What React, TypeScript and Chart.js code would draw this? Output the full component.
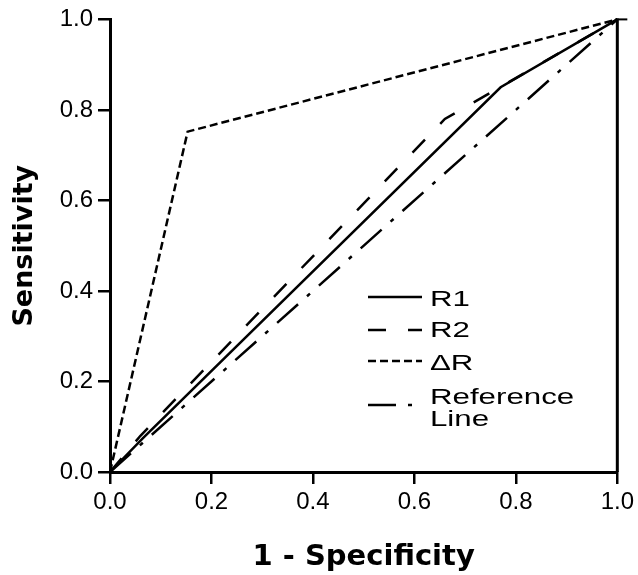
import React, { useEffect, useRef } from "react";
import { Chart, registerables } from "chart.js";

Chart.register(...registerables);

// ---- data ----
const seriesNames = ["R1", "R2", "ΔR", "Reference Line"];
const r1X = [0, 0.065, 0.77, 1];
const r1Y = [0, 0.075, 0.85, 1];
const r2X = [0, 0.06, 0.66, 1];
const r2Y = [0, 0.08, 0.78, 1];
const dRX = [0, 0.153, 1];
const dRY = [0, 0.752, 1];
const refX = [0, 1];
const refY = [0, 1];
const xTitle = "1 - Specificity";
const yTitle = "Sensitivity";

const toPoints = (xs: number[], ys: number[]) => xs.map((x, i) => ({ x, y: ys[i] }));

const dashes = {
  r1: [] as number[],
  r2: [18, 22],
  dR: [8, 4],
  ref: [28, 12, 4, 12],
};

const legendPlugin = {
  id: "insideLegend",
  afterDraw(chart: any) {
    const ctx = chart.ctx as CanvasRenderingContext2D;
    const sampleX0 = 368;
    const sampleX1 = 422;
    const textX = 430;
    const rows = [
      { sampleY: 297, textY: 300 },
      { sampleY: 330, textY: 331 },
      { sampleY: 361, textY: 364 },
      { sampleY: 405, textY: 398 },
    ];
    chart.data.datasets.forEach((ds: any, i: number) => {
      const r = rows[i];
      ctx.save();
      ctx.strokeStyle = "#000";
      ctx.lineWidth = 2.5;
      ctx.setLineDash(ds.borderDash || []);
      ctx.beginPath();
      ctx.moveTo(sampleX0, r.sampleY);
      ctx.lineTo(sampleX1, r.sampleY);
      ctx.stroke();
      ctx.restore();

      const lines = String(ds.label).split(" ");
      lines.forEach((t: string, j: number) => {
        ctx.save();
        ctx.fillStyle = "#000";
        ctx.font = "22px 'Liberation Sans', Arial, sans-serif";
        ctx.textBaseline = "middle";
        ctx.textAlign = "left";
        ctx.translate(textX, r.textY + j * 22);
        ctx.scale(1.42, 1);
        ctx.fillText(t, 0, 0);
        ctx.restore();
      });
    });
  },
};

const rightBorderPlugin = {
  id: "rightBorder",
  afterDraw(chart: any) {
    const ctx = chart.ctx as CanvasRenderingContext2D;
    const xs = chart.scales.x;
    const ys = chart.scales.y;
    const x = xs.getPixelForValue(1);
    const yTop = ys.getPixelForValue(1);
    const yBot = ys.getPixelForValue(0);
    ctx.save();
    ctx.strokeStyle = "#000";
    ctx.lineWidth = 3;
    ctx.beginPath();
    ctx.moveTo(x, yTop - 1);
    ctx.lineTo(x, yBot);
    ctx.stroke();
    ctx.lineWidth = 2;
    ctx.beginPath();
    ctx.moveTo(x - 2, yTop);
    ctx.lineTo(x + 10, yTop);
    ctx.stroke();
    ctx.restore();
  },
};

export default function App() {
  const canvasRef = useRef<HTMLCanvasElement | null>(null);

  useEffect(() => {
    const canvas = canvasRef.current;
    if (!canvas) return;
    const tickFont = { family: "'Liberation Sans', Arial, sans-serif", size: 24 };
    const titleFont = { family: "'DejaVu Sans', sans-serif", size: 29, weight: "bold" as const };
    const common = {
      borderColor: "#000",
      borderWidth: 2.5,
      pointRadius: 0,
      showLine: true,
      fill: false,
      tension: 0,
    };
    const chart = new Chart(canvas, {
      type: "scatter",
      data: {
        datasets: [
          { ...common, label: seriesNames[0], data: toPoints(r1X, r1Y), borderDash: dashes.r1 },
          { ...common, label: seriesNames[1], data: toPoints(r2X, r2Y), borderDash: dashes.r2 },
          { ...common, label: seriesNames[2], data: toPoints(dRX, dRY), borderDash: dashes.dR },
          { ...common, label: seriesNames[3], data: toPoints(refX, refY), borderDash: dashes.ref },
        ],
      },
      options: {
        responsive: false,
        animation: false,
        clip: false as any,
        layout: { padding: { top: 17, right: 18, left: 0, bottom: 0 } },
        plugins: {
          legend: { display: false },
          tooltip: { enabled: false },
        },
        scales: {
          x: {
            type: "linear",
            min: 0,
            max: 1,
            afterFit: (s: any) => {
              s.height = 103;
            },
            border: { display: true, color: "#000", width: 3 },
            grid: {
              display: true,
              drawOnChartArea: false,
              drawTicks: true,
              tickLength: 12,
              color: "#000",
              lineWidth: 2.5,
            },
            ticks: {
              stepSize: 0.2,
              color: "#000",
              font: tickFont,
              padding: 4,
              maxRotation: 0,
              callback: (v: any) => Number(v).toFixed(1),
            },
            title: {
              display: true,
              text: xTitle,
              color: "#000",
              font: titleFont,
              padding: { top: 0, bottom: 0 },
            },
          },
          y: {
            type: "linear",
            min: 0,
            max: 1,
            afterFit: (s: any) => {
              s.width = 110;
            },
            border: { display: true, color: "#000", width: 3 },
            grid: {
              display: true,
              drawOnChartArea: false,
              drawTicks: true,
              tickLength: 12,
              color: "#000",
              lineWidth: 2.5,
            },
            ticks: {
              stepSize: 0.2,
              color: "#000",
              font: tickFont,
              padding: 5,
              callback: (v: any) => Number(v).toFixed(1),
            },
            title: {
              display: true,
              text: yTitle,
              color: "#000",
              font: { ...titleFont, size: 27 },
              padding: { top: 9, bottom: 0 },
            },
          },
        },
      },
      plugins: [legendPlugin, rightBorderPlugin],
    });
    return () => chart.destroy();
  }, []);

  return (
    <div style={{ position: "absolute", left: 0, top: 0, width: 638, height: 575, background: "#fff" }}>
      <canvas ref={canvasRef} width={638} height={575} style={{ display: "block" }} />
    </div>
  );
}
